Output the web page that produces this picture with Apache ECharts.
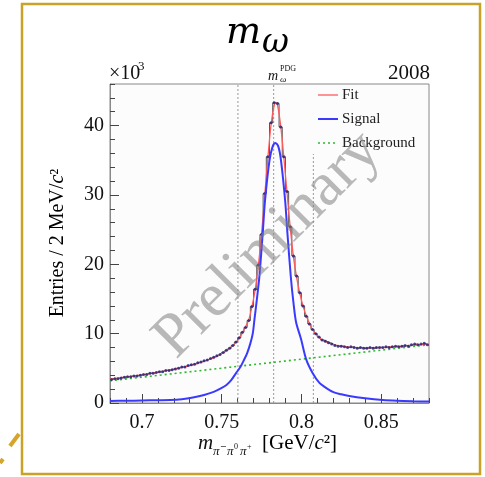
<!DOCTYPE html>
<html>
<head>
<meta charset="utf-8">
<script src="https://cdn.jsdelivr.net/npm/echarts@6/dist/echarts.min.js"></script>
<style>
html,body{margin:0;padding:0;background:#fff;}
#c{width:485px;height:477px;}
</style>
</head>
<body>
<div id="c"></div>
<script>
// ---- data ----
const binLow = 0.68;
const binWidth = 0.002;
const entries = [
  3.4,3.5,3.5,3.6,3.7,3.8,3.8,3.9,3.9,4.0,
  4.1,4.1,4.3,4.3,4.4,4.5,4.5,4.7,4.7,4.8,
  4.9,5.0,5.2,5.2,5.4,5.5,5.6,5.8,5.9,6.1,
  6.2,6.4,6.6,6.8,7.0,7.3,7.6,7.9,8.3,8.8,
  9.4,10.2,10.9,11.9,13.9,16.4,19.9,24.3,30.2,35.5,
  40.4,43.3,43.2,39.8,35.5,30.5,25.4,21.2,18.3,15.9,
  14.0,12.5,11.4,10.6,10.0,9.5,9.1,8.9,8.7,8.5,
  8.3,8.2,8.2,8.1,8.0,8.1,8.0,7.9,8.0,7.9,
  7.9,8.0,7.9,8.0,8.0,8.0,8.1,8.0,8.1,8.2,
  8.1,8.2,8.3,8.2,8.4,8.5,8.4,8.5,8.6,8.4
];
const fitX = [0.680,0.690,0.700,0.710,0.720,0.730,0.740,0.745,0.750,0.754,0.757,0.760,0.763,0.765,0.767,0.769,0.771,0.773,0.775,0.777,0.779,0.781,0.783,0.784,0.785,0.787,0.789,0.791,0.793,0.795,0.797,0.799,0.801,0.803,0.805,0.807,0.810,0.813,0.817,0.822,0.830,0.840,0.850,0.860,0.870,0.880];
const fitY = [3.45,3.75,4.05,4.45,4.9,5.4,6.1,6.5,7.1,7.7,8.3,9.0,10.1,11.0,12.0,13.9,16.3,19.8,24.3,29.9,35.4,40.2,43.0,43.3,43.0,40.0,35.4,30.3,25.3,21.1,18.1,15.8,14.0,12.6,11.5,10.6,9.7,9.1,8.65,8.3,8.05,7.95,8.0,8.15,8.35,8.45];
const sigX = [0.680,0.690,0.700,0.710,0.718,0.725,0.732,0.739,0.745,0.7495,0.753,0.756,0.759,0.762,0.764,0.766,0.768,0.7695,0.7705,0.772,0.7736,0.7757,0.7772,0.780,0.782,0.7837,0.7855,0.7872,0.7898,0.7913,0.7934,0.795,0.7967,0.7998,0.803,0.8071,0.8113,0.815,0.8197,0.825,0.830,0.840,0.851,0.860,0.870,0.880];
const sigY = [0.3,0.32,0.36,0.40,0.43,0.55,0.8,1.16,1.6,2.1,2.6,3.3,4.3,5.3,6.2,7.2,8.6,10.0,11.9,14.8,18.1,24.3,29.2,35.0,37.0,37.5,37.0,35.0,29.2,24.3,18.1,14.5,11.6,9.2,6.3,4.3,2.9,2.25,1.6,1.25,1.0,0.68,0.43,0.32,0.25,0.2];
const bgX = [0.68,0.88];
const bgY = [3.2,8.4];
const refLineX = [0.7602,0.7826,0.8075];
const refLineTop = [46,46,35.9];
const xMajor = [0.7,0.75,0.8,0.85];
const yMajor = [0,10,20,30,40];
const legendNames = ['Fit','Signal','Background'];
const legendColors = ['#ff5a5a','#3a3aff','#2db82d'];

// ---- build ----
const histPts = entries.map((v,i)=>[binLow + binWidth*(i+0.5), v]);
const fitPts = fitX.map((x,i)=>[x,fitY[i]]);
const sigPts = sigX.map((x,i)=>[x,sigY[i]]);
const bgPts = bgX.map((x,i)=>[x,bgY[i]]);

const serif = 'Liberation Serif';
const grid = {left:110, top:84, right:56, bottom:74};

const refSeries = refLineX.map((x,i)=>({
  type:'line', name:'ref'+i, data:[[x,0],[x,refLineTop[i]]],
  symbol:'none', silent:true, z:1,
  lineStyle:{color:'#9a9a9a', width:1, type:[2,2]}
}));

// manual legend (line samples + labels)
const legendStyles = [
  {lineWidth:1.3},
  {lineWidth:2},
  {lineWidth:1.6, lineDash:[2,3]}
];
const legendGraphics = [];
legendNames.forEach((name,i)=>{
  const y = 95 + i*24;
  legendGraphics.push({type:'line', shape:{x1:318, y1:y, x2:338, y2:y},
    style:Object.assign({stroke:legendColors[i]}, legendStyles[i])});
  legendGraphics.push({type:'text', style:{text:name, x:342, y:y, font:'15px "Liberation Serif"', fill:'#222', textAlign:'left', textVerticalAlign:'middle'}});
});

const chart = echarts.init(document.getElementById('c'), null, {renderer:'canvas'});
chart.setOption({
  animation:false,
  backgroundColor:'#fff',
  grid:Object.assign({show:true, borderColor:'#888', borderWidth:1, backgroundColor:'#fcfcfc'}, grid),
  xAxis:[
    {type:'value', min:0.68, max:0.88, interval:0.01, gridIndex:0, position:'bottom',
     axisLine:{show:true, lineStyle:{color:'#888'}},
     axisTick:{show:true, inside:true, length:5, lineStyle:{color:'#444'}},
     axisLabel:{customValues:xMajor, fontFamily:serif, fontSize:20, color:'#111', margin:10,
       formatter:v=>String(+v.toFixed(2))},
     splitLine:{show:false}},
    {type:'value', min:0.68, max:0.88, interval:0.01, gridIndex:0, position:'bottom',
     axisLine:{show:false},
     axisTick:{show:true, inside:true, length:9, customValues:xMajor, lineStyle:{color:'#444'}},
     axisLabel:{show:false}, splitLine:{show:false}}
  ],
  yAxis:[
    {type:'value', min:0, max:46, interval:2, position:'left',
     axisLine:{show:true, lineStyle:{color:'#888'}},
     axisTick:{show:true, inside:true, length:5, lineStyle:{color:'#444'}},
     axisLabel:{customValues:yMajor, fontFamily:serif, fontSize:20, color:'#111', margin:6},
     splitLine:{show:false}},
    {type:'value', min:0, max:46, interval:2, position:'left',
     axisLine:{show:false},
     axisTick:{show:true, inside:true, length:9, customValues:yMajor, lineStyle:{color:'#444'}},
     axisLabel:{show:false}, splitLine:{show:false}}
  ],
  series:[
    ...refSeries,
    {type:'line', name:'Background', data:bgPts, symbol:'none', z:3,
     lineStyle:{color:legendColors[2], width:1.6, type:[2,3]}},
    {type:'line', name:'hist', data:histPts, step:'middle', symbol:'none', z:4,
     lineStyle:{color:'#555', width:1}},
    {type:'line', name:'Fit', data:fitPts, smooth:0.3, symbol:'none', z:5,
     lineStyle:{color:legendColors[0], width:1.3}},
    {type:'scatter', name:'data', data:histPts, symbol:'circle', symbolSize:3, z:6,
     itemStyle:{color:'#1f1f7a'}},
    {type:'line', name:'Signal', data:sigPts, smooth:0.3, symbol:'none', z:7,
     lineStyle:{color:legendColors[1], width:2}}
  ],
  graphic:[
    {type:'rect', shape:{x:22, y:4, width:458, height:470}, style:{stroke:'#c9a227', fill:null, lineWidth:2.5}, z:0},
    {type:'line', shape:{x1:10, y1:446, x2:19, y2:434}, style:{stroke:'#d4a52a', lineWidth:4}},
    {type:'line', shape:{x1:0, y1:463, x2:3, y2:459}, style:{stroke:'#d4a52a', lineWidth:4}},
    ...legendGraphics,
    {type:'text', style:{text:'m', x:226, y:33, font:'italic 37px "DejaVu Serif"', fill:'#000', textAlign:'left', textVerticalAlign:'middle'}},
    {type:'text', style:{text:'ω', x:262, y:43, font:'italic 33px "DejaVu Serif"', fill:'#000', textAlign:'left', textVerticalAlign:'middle'}},
    {type:'text', style:{text:'×10', x:109, y:74, font:'20px "Liberation Serif"', fill:'#111', textAlign:'left', textVerticalAlign:'middle'}},
    {type:'text', style:{text:'3', x:138, y:67, font:'13px "Liberation Serif"', fill:'#111', textAlign:'left', textVerticalAlign:'middle'}},
    {type:'text', style:{text:'2008', x:430, y:73, font:'21px "Liberation Serif"', fill:'#111', textAlign:'right', textVerticalAlign:'middle'}},
    {type:'text', style:{text:'m', x:268, y:76, font:'italic 14px "Liberation Serif"', fill:'#111', textAlign:'left', textVerticalAlign:'middle'}},
    {type:'text', style:{text:'PDG', x:280, y:69, font:'8px "Liberation Serif"', fill:'#111', textAlign:'left', textVerticalAlign:'middle'}},
    {type:'text', style:{text:'ω', x:280, y:80, font:'italic 9px "Liberation Serif"', fill:'#111', textAlign:'left', textVerticalAlign:'middle'}},
    {type:'text', style:{text:'m', x:198, y:443, font:'italic 21px "Liberation Serif"', fill:'#111', textAlign:'left', textVerticalAlign:'middle'}},
    {type:'text', style:{text:'π', x:213, y:452, font:'italic 13px "Liberation Serif"', fill:'#111', textAlign:'left', textVerticalAlign:'middle'}},
    {type:'text', style:{text:'−', x:220, y:447, font:'8px "DejaVu Sans"', fill:'#111', textAlign:'left', textVerticalAlign:'middle'}},
    {type:'text', style:{text:'π', x:227, y:452, font:'italic 13px "Liberation Serif"', fill:'#111', textAlign:'left', textVerticalAlign:'middle'}},
    {type:'text', style:{text:'0', x:234, y:447, font:'8px "Liberation Serif"', fill:'#111', textAlign:'left', textVerticalAlign:'middle'}},
    {type:'text', style:{text:'π', x:240, y:452, font:'italic 13px "Liberation Serif"', fill:'#111', textAlign:'left', textVerticalAlign:'middle'}},
    {type:'text', style:{text:'+', x:247, y:447, font:'8px "Liberation Serif"', fill:'#111', textAlign:'left', textVerticalAlign:'middle'}},
    {type:'text', style:{text:'{a|[GeV/}{i|c}{a|²]}', x:262, y:443, textAlign:'left', textVerticalAlign:'middle',
      rich:{a:{fontFamily:serif, fontSize:21, color:'#111'}, i:{fontFamily:serif, fontStyle:'italic', fontSize:21, color:'#111'}}}},
    {type:'text', x:58, y:243, rotation:Math.PI/2,
     style:{text:'{a|Entries / 2 MeV/}{i|c}{a|²}', x:0, y:0, textAlign:'center', textVerticalAlign:'middle',
      rich:{a:{fontFamily:serif, fontSize:20, color:'#111'}, i:{fontFamily:serif, fontStyle:'italic', fontSize:20, color:'#111'}}}},
    {type:'text', x:268, y:245, rotation:Math.PI/4, z:100,
     style:{text:'Preliminary', x:0, y:0, font:'62px "Liberation Serif"', fill:'rgba(128,128,128,0.55)', textAlign:'center', textVerticalAlign:'middle'}}
  ]
});
</script>
</body>
</html>
